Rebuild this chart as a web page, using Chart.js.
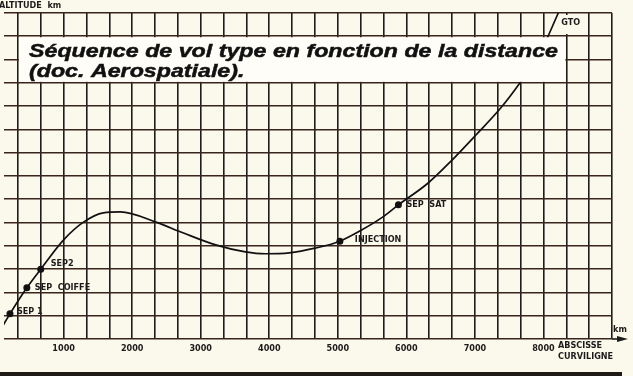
<!DOCTYPE html>
<html>
<head>
<meta charset="utf-8">
<script src="https://cdn.jsdelivr.net/npm/chart.js@4.4.1/dist/chart.umd.min.js"></script>
<style>
  html, body { margin: 0; padding: 0; background: #fbf8ec; }
  #wrap { position: relative; width: 633px; height: 376px; }
</style>
</head>
<body>
<div id="wrap"><canvas id="chart-flight" width="633" height="376"></canvas></div>
<script>
/* =====================
  Data (distance km / altitude km)
===================== */

var distKm = [0, 217, 463, 666, 1000, 1289, 1579, 1826, 2347, 2739, 3217, 3652, 3942, 4290, 4667, 5030, 5347, 5637, 5884, 6318, 6652, 7014, 7376, 7666, 7956, 8217];
var altKm  = [0, 54, 110, 150, 213, 251, 271, 273, 251, 228, 202, 187, 183, 185, 195, 210, 234, 260, 288, 335, 382, 438, 496, 552, 616, 700];

var eventNames = ['SEP 1', 'SEP  COIFFE', 'SEP2', 'INJECTION', 'SEP  SAT'];
var eventKm    = [217, 463, 666, 5030, 5884];
var eventAlt   = [54, 110, 150, 210, 288];

var xLabels = [1000, 2000, 3000, 4000, 5000, 6000, 7000, 8000];
var xMin = 130, xMax = 9000, yMax = 700;

var titleLines = ['Séquence de vol type en fonction de la distance', '(doc. Aerospatiale).'];

var labelFont = "bold 9px 'Liberation Sans Narrow', 'DejaVu Sans Condensed', sans-serif";
var ink = '#1d1b1a';

var ctx = document.getElementById('chart-flight').getContext('2d');

// label offsets next to each event dot
var eventOffsets = [[7, -2], [8, 0], [10, -5], [15, -2], [8, 0]];

var paperPlugin = {
  id: 'paper',
  beforeDraw: function(chart) {
    var c = chart.ctx;
    c.save();
    c.fillStyle = '#fbf8ec';
    c.fillRect(0, 0, chart.width, chart.height);
    c.restore();
  },
  afterDatasetsDraw: function(chart) {
    var c = chart.ctx;
    var xs = chart.scales.x, ys = chart.scales.y;
    c.save();

    // event labels
    c.font = labelFont;
    c.fillStyle = ink;
    c.textBaseline = 'middle';
    _each(eventNames, function(name, i) {
      var px = xs.getPixelForValue(eventKm[i]);
      var py = ys.getPixelForValue(eventAlt[i]);
      c.fillText(name, px + eventOffsets[i][0], py + eventOffsets[i][1]);
    });

    // title box over the grid
    var bx0 = xs.getPixelForValue(1000 / 3) + 1;
    var bx1 = xs.getPixelForValue(25000 / 3) - 1;
    var by0 = ys.getPixelForValue(650) + 1;
    var by1 = ys.getPixelForValue(550) - 1;
    c.fillStyle = '#fefdf7';
    c.fillRect(bx0, by0, bx1 - bx0, by1 - by0);
    c.fillStyle = '#111';
    c.strokeStyle = '#111';
    c.lineWidth = 0.5;
    c.textBaseline = 'alphabetic';
    c.font = "italic bold 19px 'Liberation Sans', Arial, sans-serif";
    // the printed face is wider than Liberation, stretch it horizontally
    var sx = 529 / c.measureText(titleLines[0]).width;
    _each(titleLines, function(line, i) {
      c.save();
      c.translate(29, 57 + i * 20);
      c.scale(sx, 1);
      c.fillText(line, 0, 0);
      c.strokeText(line, 0, 0);
      c.restore();
    });

    // GTO tag at the top of the curve
    var gx = xs.getPixelForValue(distKm[distKm.length - 1]);
    c.fillStyle = '#fbf8ec';
    c.fillRect(gx + 3, 15, 24, 19);
    c.font = labelFont;
    c.fillStyle = ink;
    c.textBaseline = 'middle';
    c.fillText('GTO', gx + 3, 23);

    // axis titles
    c.fillText('ALTITUDE  km', -1, 6);
    c.fillText('ABSCISSE', 558, 346);
    c.fillText('CURVILIGNE', 558, 357);
    c.fillText('km', 613, 330);

    // arrow at the end of the x axis
    var ay = ys.getPixelForValue(0);
    c.strokeStyle = ink;
    c.lineWidth = 1.6;
    c.beginPath();
    c.moveTo(xs.right, ay);
    c.lineTo(620, ay);
    c.stroke();
    c.beginPath();
    c.moveTo(628, ay);
    c.lineTo(617, ay - 3);
    c.lineTo(617, ay + 3);
    c.closePath();
    c.fill();

    // dark page edge along the bottom
    c.fillStyle = '#201a16';
    c.fillRect(0, 372, 622, 4);
    c.restore();
  }
};

function _each(arr, fn) { for (var i = 0; i < arr.length; i++) fn(arr[i], i); }

var flightChart = new Chart(ctx, {
  type: 'line',
  data: {
    datasets: [{
      label: 'trajectoire',
      data: distKm.map(function(d, i) { return {x: d, y: altKm[i]}; }),
      borderColor: '#111',
      borderWidth: 1.7,
      pointRadius: 0,
      fill: false,
      cubicInterpolationMode: 'monotone'
    }, {
      label: 'evenements',
      data: eventKm.map(function(d, i) { return {x: d, y: eventAlt[i]}; }),
      showLine: false,
      pointRadius: 3.5,
      pointBackgroundColor: '#111',
      pointBorderWidth: 0
    }]
  },
  options: {
    responsive: false,
    animation: false,
    layout: { padding: { top: 13, right: 21, left: -3, bottom: 0 } },
    plugins: { legend: { display: false }, tooltip: { enabled: false } },
    scales: {
      x: {
        type: 'linear',
        min: xMin,
        max: xMax,
        border: { display: false },
        grid: { color: '#1f1d1c', lineWidth: 1.6, drawTicks: false },
        afterBuildTicks: function(scale) {
          var t = [];
          for (var k = 1; k <= 27; k++) t.push({ value: k * 1000 / 3 });
          scale.ticks = t;
        },
        afterFit: function(scale) {
          scale.height = 37;
          scale.paddingLeft = 0;
          scale.paddingRight = 0;
        },
        ticks: {
          autoSkip: false,
          maxRotation: 0,
          padding: 4,
          color: ink,
          font: { family: "'Liberation Sans Narrow', 'DejaVu Sans Condensed', sans-serif", size: 9, weight: 'bold' },
          callback: function(value) {
            var v = Math.round(value);
            return xLabels.indexOf(v) >= 0 ? String(v) : '';
          }
        }
      },
      y: {
        min: 0,
        max: yMax,
        border: { display: false },
        grid: { color: '#3a251c', lineWidth: 1.6, drawTicks: false },
        ticks: { display: false, stepSize: 50 },
        afterFit: function(scale) { scale.width = 0; }
      }
    }
  },
  plugins: [paperPlugin]
});
</script>
</body>
</html>
